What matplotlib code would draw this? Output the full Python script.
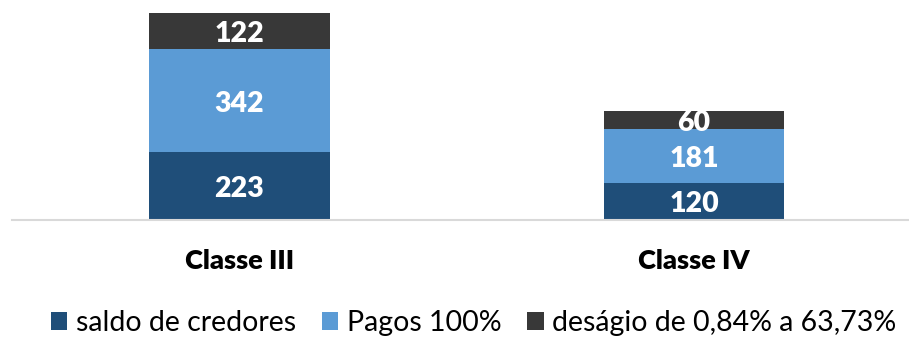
import matplotlib
matplotlib.use("Agg")
import matplotlib.pyplot as plt
import matplotlib.transforms as mtransforms
from matplotlib.patches import Patch

categories = ["Classe III", "Classe IV"]
saldo_credores = [223, 120]
pagos_100 = [342, 181]
desagio = [122, 60]

series_names = ["saldo de credores", "Pagos 100%", "deságio de 0,84% a 63,73%"]
colors = ["#1F4E79", "#5B9BD5", "#383838"]

plt.rcParams["font.family"] = ["Lato", "DejaVu Sans"]

fig = plt.figure(figsize=(9.09, 3.38), dpi=100)
ax = fig.add_axes([12 / 909, 1 - 219.5 / 338, 1 - 12 / 909, 219.5 / 338])

# value labels sit slightly below the segment centre
label_tf = ax.transData + mtransforms.ScaledTranslation(0, -3 / 100, fig.dpi_scale_trans)

x = list(range(len(categories)))
width = 0.398
bottom = [0] * len(categories)
for vals, col in zip([saldo_credores, pagos_100, desagio], colors):
    ax.bar(x, vals, width, bottom=bottom, color=col, edgecolor="none", zorder=2)
    for xi, b, v in zip(x, bottom, vals):
        ax.text(xi, b + v / 2, f"{v}", ha="center", va="center", color="white",
                fontsize=20.5, fontweight="heavy", zorder=3, transform=label_tf)
    bottom = [b + v for b, v in zip(bottom, vals)]

ax.set_xlim(-0.5005, 1.473)
ax.set_ylim(0, 728.5)
ax.set_yticks([])
ax.set_xticks(x)
ax.set_xticklabels(categories, fontsize=19.5, fontweight="heavy", color="black")
ax.tick_params(axis="x", length=0, pad=21)
for s in ["top", "right", "left"]:
    ax.spines[s].set_visible(False)
ax.spines["bottom"].set_color("#D9D9D9")
ax.spines["bottom"].set_linewidth(1.5)

handles = [Patch(facecolor=c, edgecolor="none") for c in colors]
fig.legend(handles, series_names, loc="center", bbox_to_anchor=(0.521, 0.044), ncol=3,
           frameon=False, fontsize=20.5, handlelength=0.58, handleheight=0.58,
           handletextpad=0.3, columnspacing=0.9, borderaxespad=0)

fig.savefig("out.png", dpi=100, facecolor="white")
